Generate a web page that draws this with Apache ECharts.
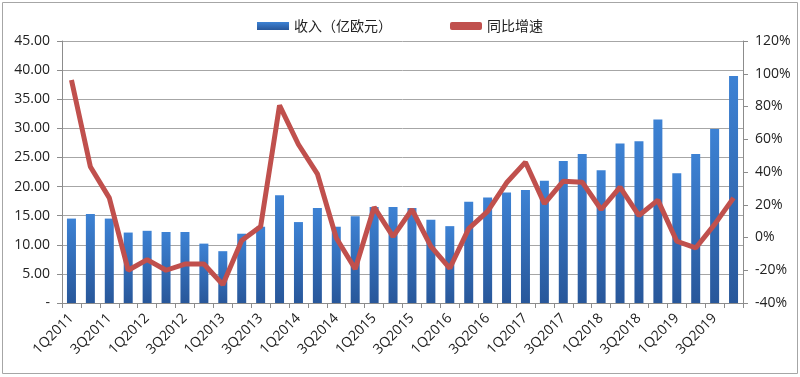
<!DOCTYPE html>
<html><head><meta charset="utf-8">
<script src="https://cdn.jsdelivr.net/npm/echarts@6/dist/echarts.min.js"></script>
<style>html,body{margin:0;padding:0;background:#fff}#c{width:800px;height:377px}</style>
</head><body><div id="c"></div>
<script>
const categories = ['1Q2011','2Q2011','3Q2011','4Q2011','1Q2012','2Q2012','3Q2012','4Q2012',
'1Q2013','2Q2013','3Q2013','4Q2013','1Q2014','2Q2014','3Q2014','4Q2014',
'1Q2015','2Q2015','3Q2015','4Q2015','1Q2016','2Q2016','3Q2016','4Q2016',
'1Q2017','2Q2017','3Q2017','4Q2017','1Q2018','2Q2018','3Q2018','4Q2018',
'1Q2019','2Q2019','3Q2019','4Q2019'];
const revenue = [14.5,15.3,14.5,12.1,12.4,12.2,12.2,10.2,
8.9,11.9,13.1,18.5,13.9,16.3,13.1,14.9,
16.5,16.5,16.3,14.3,13.2,17.4,18.1,19.0,
19.4,21.0,24.4,25.6,22.8,27.4,27.8,31.5,
22.3,25.6,29.9,39.0];
const growth = [96.2,43.2,24.2,-20.0,-13.5,-20.0,-16.2,-16.2,
-28.8,-1.9,6.7,80.7,56.8,38.9,-0.3,-19.2,
18.5,0.5,17.1,-5.4,-18.8,5.4,16.0,33.4,
46.0,20.7,34.4,33.8,17.1,30.7,13.4,22.8,
-2.3,-6.4,8.0,24.2];
const leftTicks = {min:0, max:45, interval:5};
const rightTicks = {min:-40, max:120, interval:20};
const names = ['收入（亿欧元）','同比增速'];

const chart = echarts.init(document.getElementById('c'));
const axisFont = {fontFamily:'"Open Sans","Noto Sans",sans-serif', fontSize:14, color:'#222'};
chart.setOption({
  animation:false,
  graphic:[{type:'rect', shape:{x:2.5,y:2.5,width:795,height:371}, style:{fill:'none', stroke:'#a6a6a6', lineWidth:1}}],
  legend:{
    top:14, left:'center', itemGap:58, itemWidth:32, itemHeight:8,
    textStyle:{fontFamily:'"Noto Sans CJK SC",sans-serif', fontSize:14, color:'#222'},
    data:[{name:names[0], icon:'rect'},{name:names[1], icon:'roundRect'}]
  },
  grid:{left:62, right:57, top:41, bottom:74},
  xAxis:{
    type:'category', data:categories, boundaryGap:true,
    axisLine:{lineStyle:{color:'#8c8c8c'}},
    axisTick:{show:true, interval:0, length:5, lineStyle:{color:'#8c8c8c'}},
    axisLabel:{interval:1, rotate:45, margin:13, fontFamily:'"Open Sans","Noto Sans",sans-serif', fontSize:14, color:'#222'}
  },
  yAxis:[{
    type:'value', min:leftTicks.min, max:leftTicks.max, interval:leftTicks.interval,
    axisLine:{show:true, lineStyle:{color:'#8c8c8c'}},
    axisTick:{show:true, length:5, lineStyle:{color:'#8c8c8c'}},
    splitLine:{show:true, lineStyle:{color:'#a6a6a6', width:1}},
    axisLabel:Object.assign({margin:12, formatter:v => v===0 ? '-' : v.toFixed(2)}, axisFont)
  },{
    type:'value', min:rightTicks.min, max:rightTicks.max, interval:rightTicks.interval,
    axisLine:{show:true, lineStyle:{color:'#8c8c8c'}},
    axisTick:{show:true, length:5, lineStyle:{color:'#8c8c8c'}},
    splitLine:{show:false},
    axisLabel:Object.assign({margin:12, formatter:v => v+'%'}, axisFont)
  }],
  series:[{
    name:names[0], type:'bar', data:revenue, barWidth:9, yAxisIndex:0,
    itemStyle:{color:new echarts.graphic.LinearGradient(0,0,0,1,[{offset:0,color:'#3d82d4'},{offset:1,color:'#28579a'}])}
  },{
    name:names[1], type:'line', data:growth, yAxisIndex:1, showSymbol:false, symbol:'none',
    lineStyle:{color:'#c0504d', width:5}, itemStyle:{color:'#c0504d'}
  }]
});
</script></body></html>
